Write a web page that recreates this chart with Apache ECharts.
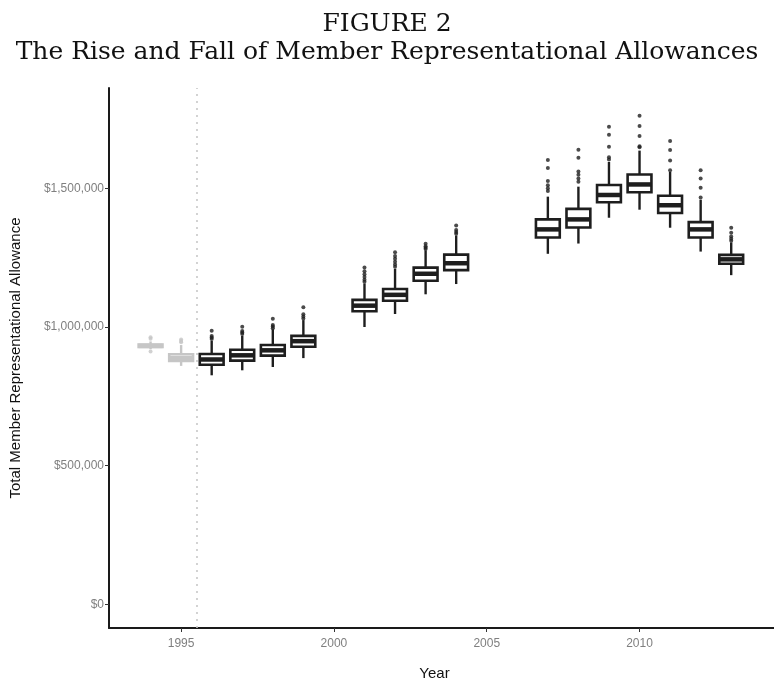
<!DOCTYPE html>
<html>
<head>
<meta charset="utf-8">
<script src="https://cdn.jsdelivr.net/npm/echarts@6/dist/echarts.min.js"></script>
<style>html,body{margin:0;padding:0;background:#fff;}#chart{width:774px;height:686px;}</style>
</head>
<body>
<div id="chart"></div>
<script>
const years = [1994,1995,1996,1997,1998,1999,2001,2002,2003,2004,2007,2008,2009,2010,2011,2012,2013];
const mins    = [920000, 860000, 826000, 844000, 856000, 888000, 1000000, 1047000, 1118000, 1155000, 1264000, 1301000, 1394000, 1423000, 1358000, 1272000, 1187000];
const q1s     = [928000, 878000, 864000, 879000, 897000, 929000, 1057000, 1095000, 1167000, 1205000, 1323000, 1359000, 1450000, 1486000, 1411000, 1323000, 1228000];
const medians = [932000, 888000, 883000, 898000, 916000, 949000, 1077000, 1116000, 1192000, 1230000, 1352000, 1388000, 1476000, 1514000, 1439000, 1352000, 1244000];
const q3s     = [937000, 902000, 903000, 918000, 935000, 968000, 1098000, 1137000, 1214000, 1261000, 1388000, 1426000, 1512000, 1550000, 1473000, 1378000, 1260000];
const maxs    = [948000, 935000, 950000, 968000, 992000, 1025000, 1157000, 1210000, 1276000, 1330000, 1470000, 1506000, 1595000, 1636000, 1559000, 1459000, 1305000];
const outliers = [
  [963000, 958000, 912000],
  [945000, 950000, 955000],
  [957000, 962000, 968000, 987000],
  [975000, 980000, 986000, 1001000],
  [996000, 1002000, 1007000, 1030000],
  [1031000, 1038000, 1046000, 1071000],
  [1163000, 1170000, 1180000, 1190000, 1201000, 1215000],
  [1217000, 1225000, 1235000, 1246000, 1256000, 1270000],
  [1281000, 1286000, 1291000, 1300000],
  [1336000, 1343000, 1350000, 1366000],
  [1490000, 1500000, 1511000, 1526000, 1573000, 1602000],
  [1524000, 1535000, 1549000, 1561000, 1610000, 1639000],
  [1604000, 1612000, 1650000, 1693000, 1722000],
  [1648000, 1652000, 1689000, 1725000, 1762000],
  [1565000, 1600000, 1638000, 1671000],
  [1467000, 1502000, 1535000, 1565000],
  [1311000, 1318000, 1326000, 1340000, 1358000]
];
const xTicks = [1995, 2000, 2005, 2010];
const yTicks = [0, 500000, 1000000, 1500000];
const reformYear = 1995.5;
const titleLine1 = 'FIGURE 2';
const titleLine2 = 'The Rise and Fall of Member Representational Allowances';

const CUTOFF = 1995;
const boxData = years.map((y, i) => [y, mins[i], q1s[i], medians[i], q3s[i], maxs[i]]);
const preData = boxData.filter(d => d[0] <= CUTOFF);
const postData = boxData.filter(d => d[0] > CUTOFF);
const outPre = [], outPost = [];
years.forEach((y, i) => outliers[i].forEach(v => (y <= CUTOFF ? outPre : outPost).push([y, v])));

function makeRender(color) {
  return function (params, api) {
    const x = api.value(0);
    const lo = api.coord([x, api.value(1)]);
    const q1 = api.coord([x, api.value(2)]);
    const md = api.coord([x, api.value(3)]);
    const q3 = api.coord([x, api.value(4)]);
    const hi = api.coord([x, api.value(5)]);
    const w = api.size([0.78, 0])[0];
    const cx = lo[0];
    const ls = { stroke: color, lineWidth: 2.4 };
    return {
      type: 'group',
      children: [
        { type: 'line', shape: { x1: cx, y1: hi[1], x2: cx, y2: q3[1] }, style: ls },
        { type: 'line', shape: { x1: cx, y1: q1[1], x2: cx, y2: lo[1] }, style: ls },
        { type: 'rect', shape: { x: cx - w / 2, y: q3[1], width: w, height: q1[1] - q3[1] }, style: { fill: '#fff', stroke: color, lineWidth: 2.6 } },
        { type: 'line', shape: { x1: cx - w / 2, y1: md[1], x2: cx + w / 2, y2: md[1] }, style: { stroke: color, lineWidth: 4.5 } }
      ]
    };
  };
}

const chart = echarts.init(document.getElementById('chart'), null, { renderer: 'canvas' });
const fmt = v => '$' + Math.round(v).toString().replace(/\B(?=(\d{3})+(?!\d))/g, ',');
chart.setOption({
  animation: false,
  backgroundColor: '#fff',
  title: [
    { text: titleLine1, left: 'center', top: 7, textStyle: { fontFamily: 'DejaVu Serif', fontWeight: 'normal', fontSize: 25, color: '#111' } },
    { text: titleLine2, left: 'center', top: 35, textStyle: { fontFamily: 'DejaVu Serif', fontWeight: 'normal', fontSize: 25, color: '#111' } }
  ],
  grid: { left: 108, top: 88, width: 692, bottom: 49, containLabel: false },
  xAxis: {
    type: 'value', min: 1992.64, max: 2014.4,
    name: 'Year', nameLocation: 'middle', nameGap: 38,
    nameTextStyle: { fontFamily: 'Liberation Sans', fontSize: 15, color: '#111', padding: [0, 14, 0, 0] },
    axisLine: { show: true, onZero: false, lineStyle: { color: '#1a1a1a', width: 2 } },
    axisTick: { show: true, length: 4, lineStyle: { color: '#333', width: 1 }, customValues: xTicks },
    axisLabel: { color: '#7f7f7f', fontFamily: 'Liberation Sans', fontSize: 12, margin: 10, customValues: xTicks, formatter: v => String(v) },
    splitLine: { show: false }
  },
  yAxis: {
    type: 'value', min: -85000, max: 1861700,
    name: 'Total Member Representational Allowance', nameLocation: 'middle', nameGap: 86,
    nameTextStyle: { fontFamily: 'Liberation Sans', fontSize: 15, color: '#111' },
    axisLine: { show: true, onZero: false, lineStyle: { color: '#1a1a1a', width: 2 } },
    axisTick: { show: true, length: 4, lineStyle: { color: '#333', width: 1 }, customValues: yTicks },
    axisLabel: { color: '#7f7f7f', fontFamily: 'Liberation Sans', fontSize: 12, margin: 5, customValues: yTicks, formatter: fmt },
    splitLine: { show: false }
  },
  series: [
    {
      type: 'custom', name: 'pre', renderItem: makeRender('#c6c6c6'), data: preData,
      encode: { x: 0, y: [1, 2, 3, 4, 5] }, z: 3,
      markLine: {
        silent: true, symbol: 'none', label: { show: false },
        lineStyle: { type: [2, 5], color: '#c8c8c8', width: 1.6 },
        data: [{ xAxis: reformYear }]
      }
    },
    { type: 'scatter', data: outPre, symbolSize: 4, itemStyle: { color: '#c6c6c6' }, z: 2 },
    { type: 'custom', name: 'post', renderItem: makeRender('#1e1e1e'), data: postData, encode: { x: 0, y: [1, 2, 3, 4, 5] }, z: 3 },
    { type: 'scatter', data: outPost, symbolSize: 4, itemStyle: { color: '#1e1e1e' }, z: 2 }
  ]
});
</script>
</body>
</html>
